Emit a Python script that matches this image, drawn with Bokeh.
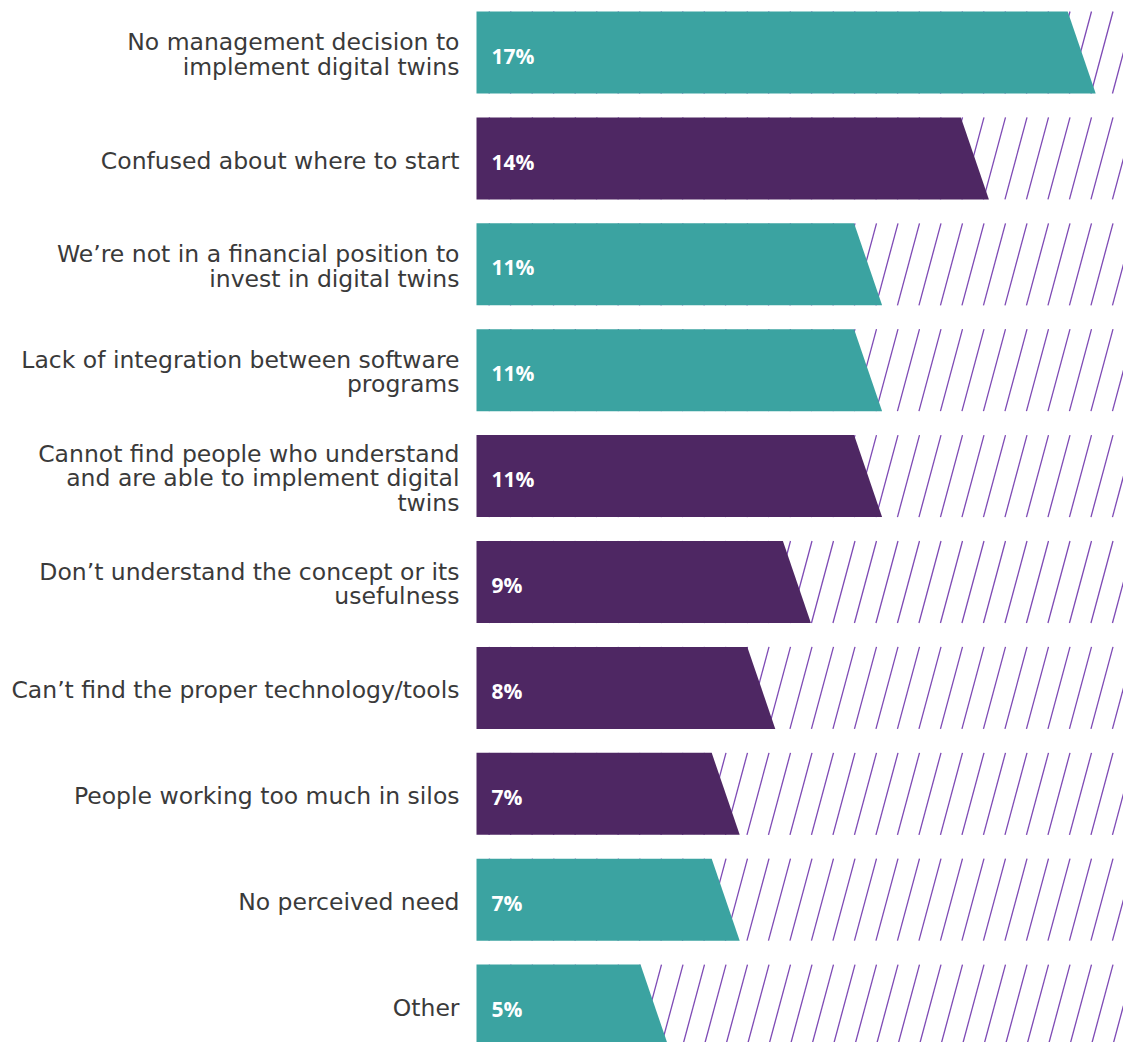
from bokeh.plotting import figure
from bokeh.models import Range1d
from bokeh.core.properties import value
from bokeh.embed import file_html
from bokeh.resources import INLINE

# Reasons for not adopting digital twins (share of respondents, %)
reasons = [
    "No management decision to\nimplement digital twins",
    "Confused about where to start",
    "We\u2019re not in a financial position to\ninvest in digital twins",
    "Lack of integration between software\nprograms",
    "Cannot find people who understand\nand are able to implement digital\ntwins",
    "Don\u2019t understand the concept or its\nusefulness",
    "Can\u2019t find the proper technology/tools",
    "People working too much in silos",
    "No perceived need",
    "Other",
]
shares = [17, 14, 11, 11, 11, 9, 8, 7, 7, 5]
groups = ["teal", "purple", "teal", "teal", "purple",
          "purple", "purple", "purple", "teal", "teal"]

palette = {"teal": "#3ba3a1", "purple": "#4e2763"}
HATCH_COLOR = "#7e4ab5"

W, H = 1123, 1042
PX_PER_PCT = 35.6          # horizontal scale
X0_PX = 476                # where the bars start
ROW_PX = 105.9             # row pitch
FIRST_CENTER_PX = 52
BAR_PX = 82

x_start = -X0_PX / PX_PER_PCT
x_end = (W - X0_PX) / PX_PER_PCT
y_top = -FIRST_CENTER_PX / ROW_PX
y_bottom = (H - FIRST_CENTER_PX) / ROW_PX

p = figure(width=W, height=H, output_backend="svg", toolbar_location=None,
           x_range=Range1d(x_start, x_end), y_range=Range1d(y_bottom, y_top),
           min_border=0, border_fill_color="white", background_fill_color="white",
           outline_line_color=None)
p.axis.visible = False
p.grid.visible = False

half = BAR_PX / ROW_PX / 2
slant = 28 / PX_PER_PCT / 2          # half of the slanted end's horizontal run
band_start = 2 / PX_PER_PCT          # keep the hatching tucked under the bar's left edge
band_end = x_end

# diagonal hatching behind every bar, across the whole row
spacing = 21.5 / PX_PER_PCT
lean = 21.5 / PX_PER_PCT * (BAR_PX / 80)
phase = 13 / PX_PER_PCT
x0s, y0s, x1s, y1s = [], [], [], []
for i in range(len(shares)):
    top, bot = i - half, i + half
    k = 0
    while True:
        xt = phase + k * spacing
        xb = xt - lean
        if xb > band_end:
            break
        ya, xa = bot, xb
        yb, xbb = top, xt
        if xa < band_start:
            t = (band_start - xa) / (xbb - xa)
            ya = bot + (top - bot) * t
            xa = band_start
        if xbb > band_end:
            t = (band_end - xa) / (xbb - xa)
            yb = ya + (top - ya) * t
            xbb = band_end
        if xbb > band_start:
            x0s.append(xa); y0s.append(ya); x1s.append(xbb); y1s.append(yb)
        k += 1

p.segment(x0=x0s, y0=y0s, x1=x1s, y1=y1s, line_color=HATCH_COLOR, line_width=1.3)

# bars with a slanted right end
xs, ys, colors = [], [], []
for i, (v, g) in enumerate(zip(shares, groups)):
    xs.append([0, v - slant, v + slant, 0])
    ys.append([i - half, i - half, i + half, i + half])
    colors.append(palette[g])
p.patches(xs=xs, ys=ys, fill_color=colors, line_color=None)

rows = list(range(len(shares)))

# value labels inside the bars
p.text(x=[15 / PX_PER_PCT] * len(shares), y=[r + 0.03 for r in rows],
       text=[f"{v}%" for v in shares],
       text_font=value("Open Sans"), text_font_style="bold",
       text_font_size="21px", text_color="white",
       text_align="left", text_baseline="middle")

# category labels to the left
p.text(x=[-17 / PX_PER_PCT] * len(reasons), y=[r + 0.02 for r in rows], text=reasons,
       text_font=value("DejaVu Sans"), text_font_size="23.5px",
       text_color="#3a3a3a", text_align="right", text_baseline="middle",
       text_line_height=0.87)

open("out.html", "w").write(file_html(p, INLINE))
